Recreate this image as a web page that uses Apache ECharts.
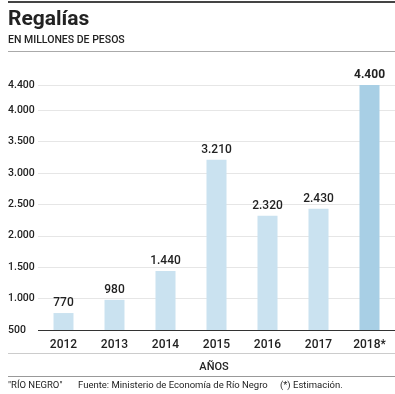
<!DOCTYPE html>
<html><head><meta charset="utf-8">
<script src="https://cdn.jsdelivr.net/npm/echarts@6/dist/echarts.min.js"></script>
<style>html,body{margin:0;padding:0;background:#fff}#c{width:395px;height:394px}</style>
</head><body><div id="c"></div>
<script>
const categories = ['2012','2013','2014','2015','2016','2017','2018*'];
const values = [770, 980, 1440, 3210, 2320, 2430, 4400];
const yMin = 500, yMax = 4400, yStep = 500;
const titleText = 'Regalías';
const subtitleText = 'EN MILLONES DE PESOS';
const xAxisName = 'AÑOS';
const footer = ['"RÍO NEGRO"', 'Fuente: Ministerio de Economía de Río Negro', '(*) Estimación.'];

const fmt = v => String(v).replace(/\B(?=(\d{3})+(?!\d))/g, '.');
const FONT = 'Roboto, "Liberation Sans", sans-serif';
const chart = echarts.init(document.getElementById('c'));
chart.setOption({
  animation: false,
  textStyle: { fontFamily: FONT },
  grid: { left: 38, right: 0, top: 85, bottom: 64, containLabel: false },
  xAxis: {
    type: 'category', data: categories,
    axisLine: { show: false }, axisTick: { show: false },
    axisLabel: { color: '#222', fontSize: 12, fontWeight: 500, margin: 9, fontFamily: FONT }
  },
  yAxis: {
    type: 'value', min: yMin, max: yMax, interval: yStep,
    axisLine: { show: false }, axisTick: { show: false },
    axisLabel: { color: '#222', fontSize: 10.5, fontWeight: 500, align: 'left', margin: 30,
      formatter: v => fmt(v), showMaxLabel: true, fontFamily: FONT },
    splitLine: { lineStyle: { color: '#e6e6e6', width: 1 } }
  },
  series: [{
    type: 'bar', barWidth: 20,
    data: values.map((v, i) => ({
      value: v,
      itemStyle: { color: i === values.length - 1 ? '#a8cfe5' : '#cae2f0' },
      label: { fontWeight: i === values.length - 1 ? 'bold' : 500 }
    })),
    label: { show: true, position: 'top', distance: 4, color: '#222', fontSize: 12,
      fontFamily: FONT, formatter: p => fmt(p.value) },
    markLine: {
      silent: true, symbol: 'none', label: { show: false },
      lineStyle: { color: '#333', width: 1, type: 'solid' },
      data: [{ yAxis: yMin }]
    }
  }],
  graphic: [
    { type: 'rect', shape: { x: 8, y: 1, width: 387, height: 2 }, style: { fill: '#444' } },
    { type: 'text', left: 8, top: 9, style: { text: titleText, font: 'bold 21px ' + FONT, fill: '#222' } },
    { type: 'text', left: 8, top: 35, style: { text: subtitleText, font: '500 10.5px ' + FONT, fill: '#222' } },
    { type: 'rect', shape: { x: 8, y: 51, width: 387, height: 1 }, style: { fill: '#aaa' } },
    { type: 'rect', shape: { x: 8, y: 353, width: 387, height: 1 }, style: { fill: '#ccc' } },
    { type: 'text', x: 214, y: 367, style: { text: xAxisName, font: '500 11px ' + FONT, fill: '#222', align: 'center', verticalAlign: 'middle' } },
    { type: 'rect', shape: { x: 8, y: 376, width: 387, height: 1 }, style: { fill: '#999' } },
    { type: 'text', x: 8, y: 386, style: { text: footer[0], font: '9.5px ' + FONT, fill: '#222', verticalAlign: 'middle' } },
    { type: 'text', x: 78, y: 386, style: { text: footer[1], font: '9.5px ' + FONT, fill: '#222', verticalAlign: 'middle' } },
    { type: 'text', x: 280, y: 386, style: { text: footer[2], font: '9.5px ' + FONT, fill: '#222', verticalAlign: 'middle' } }
  ]
});
</script></body></html>
